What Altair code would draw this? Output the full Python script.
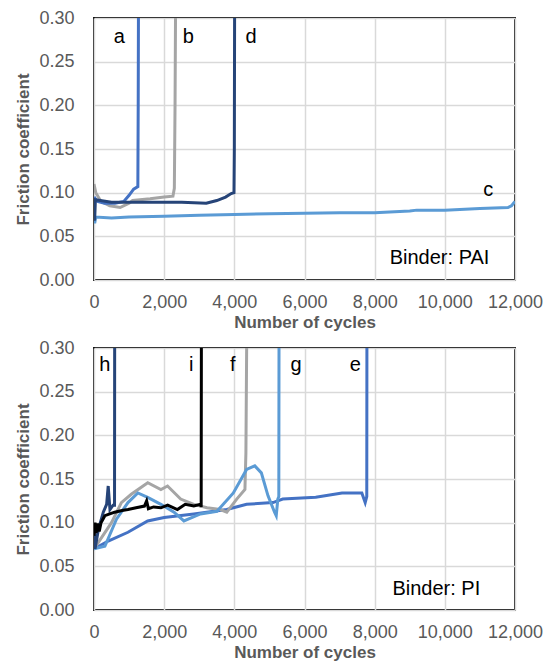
import altair as alt
import pandas as pd

# ---------------- Data ----------------
# Top panel: Binder PAI
a_x = [0, 100, 300, 600, 850, 1000, 1130, 1250, 1260, 1270]
a_y = [0.095, 0.090, 0.088, 0.088, 0.090, 0.097, 0.104, 0.107, 0.20, 0.35]

b_x = [0, 50, 200, 450, 745, 1000, 1100, 1600, 2000, 2250, 2290, 2310, 2330]
b_y = [0.110, 0.100, 0.090, 0.085, 0.083, 0.088, 0.091, 0.093, 0.095, 0.096, 0.105, 0.20, 0.35]

c_x = [0, 20, 50, 500, 1000, 2000, 3000, 4000, 5000, 6000, 7000, 8000, 9000, 9200, 10000, 11000, 11800, 11900, 12000]
c_y = [0.075, 0.065, 0.072, 0.071, 0.072, 0.073, 0.074, 0.075, 0.076, 0.0765, 0.077, 0.077, 0.079, 0.080, 0.080, 0.082, 0.083, 0.085, 0.090]

d_x = [0, 20, 40, 500, 1500, 2500, 3200, 3500, 3750, 3910, 3990, 4000, 4010]
d_y = [0.068, 0.070, 0.092, 0.089, 0.089, 0.089, 0.088, 0.091, 0.095, 0.099, 0.100, 0.15, 0.35]

# Bottom panel: Binder PI
e_x = [0, 405, 968, 1530, 2000, 2845, 3785, 4350, 5100, 5380, 6320, 7070, 7634, 7730, 7775, 7780]
e_y = [0.070, 0.079, 0.089, 0.102, 0.106, 0.110, 0.115, 0.121, 0.123, 0.127, 0.129, 0.134, 0.134, 0.123, 0.130, 0.35]

f_x = [0, 499, 780, 1062, 1532, 1907, 2096, 2470, 2845, 3222, 3597, 3785, 4068, 4302, 4330, 4360]
f_y = [0.070, 0.100, 0.123, 0.1325, 0.1458, 0.138, 0.142, 0.127, 0.121, 0.117, 0.115, 0.112, 0.127, 0.138, 0.18, 0.35]

g_x = [0, 310, 640, 968, 1250, 1530, 1907, 2282, 2563, 3034, 3504, 3972, 4349, 4583, 4770, 4958, 5146, 5194, 5240, 5268, 5275]
g_y = [0.070, 0.073, 0.104, 0.123, 0.134, 0.129, 0.121, 0.112, 0.102, 0.110, 0.113, 0.134, 0.161, 0.165, 0.157, 0.131, 0.112, 0.108, 0.127, 0.130, 0.35]

h_x = [0, 30, 125, 265, 360, 405, 455, 545, 585, 590]
h_y = [0.096, 0.070, 0.092, 0.112, 0.121, 0.142, 0.115, 0.120, 0.120, 0.35]

i_x = [0, 30, 60, 100, 150, 200, 310, 450, 590, 800, 968, 1200, 1438, 1500, 1550, 1700, 1907, 2100, 2377, 2600, 2845, 3034, 3055, 3062]
i_y = [0.085, 0.100, 0.088, 0.099, 0.090, 0.100, 0.108, 0.110, 0.112, 0.114, 0.115, 0.117, 0.119, 0.125, 0.116, 0.118, 0.117, 0.120, 0.115, 0.121, 0.119, 0.121, 0.118, 0.35]

top_series = [("c", c_x, c_y), ("b", b_x, b_y), ("a", a_x, a_y), ("d", d_x, d_y)]
bot_series = [("e", e_x, e_y), ("f", f_x, f_y), ("g", g_x, g_y), ("h", h_x, h_y), ("i", i_x, i_y)]

series_names = ["a", "b", "c", "d", "e", "f", "g", "h", "i"]
series_colors = ["#4472C4", "#A5A5A5", "#5B9BD5", "#264478",
                 "#4472C4", "#A5A5A5", "#5B9BD5", "#264478", "#000000"]

top_labels = ["a", "b", "d", "c"]
top_label_x = [724, 2687, 4478, 11240]
top_label_y = [0.2785, 0.2785, 0.2785, 0.103]

bot_labels = ["h", "i", "f", "g", "e"]
bot_label_x = [310, 2772, 3955, 5757, 7448]
bot_label_y = [0.281, 0.281, 0.281, 0.281, 0.281]

binder_text = ["Binder: PAI", "Binder: PI"]
binder_x = [11270, 11010]
binder_y = [0.025, 0.024]

x_ticks = [0, 2000, 4000, 6000, 8000, 10000, 12000]
y_ticks = [0.0, 0.05, 0.10, 0.15, 0.20, 0.25, 0.30]

FONT = "Liberation Sans"
W, H = 421, 262


def build_df(series):
    rows = []
    for order, (name, xs, ys) in enumerate(series):
        for k, (xv, yv) in enumerate(zip(xs, ys)):
            rows.append({"series": name, "layer": order, "idx": k, "x": xv, "y": yv})
    return pd.DataFrame(rows)


def panel(series, labels, lx, ly, binder, bx, by):
    df = build_df(series)
    xenc = alt.X("x:Q", scale=alt.Scale(domain=[0, 12000], nice=False),
                 axis=alt.Axis(values=x_ticks, format=",.0f", title="Number of cycles",
                               labelOverlap=False, labelFlush=False))
    yenc = alt.Y("y:Q", scale=alt.Scale(domain=[0, 0.3], nice=False),
                 axis=alt.Axis(values=y_ticks, format=".2f", title="Friction coefficient",
                               labelOverlap=False, labelFlush=False))
    lines = []
    for name, _, _ in series:
        lines.append(
            alt.Chart(df[df.series == name]).mark_line(strokeWidth=3, clip=True).encode(
                x=xenc, y=yenc,
                color=alt.Color("series:N", scale=alt.Scale(domain=series_names, range=series_colors), legend=None),
                order="idx:Q",
            )
        )
    lab_df = pd.DataFrame({"label": labels, "x": lx, "y": ly})
    txt = alt.Chart(lab_df).mark_text(fontSize=20, font=FONT, color="black", baseline="middle").encode(
        x="x:Q", y="y:Q", text="label:N")
    bdf = pd.DataFrame({"label": [binder], "x": [bx], "y": [by]})
    btxt = alt.Chart(bdf).mark_text(fontSize=20, font=FONT, color="black", align="right",
                                    baseline="middle").encode(x="x:Q", y="y:Q", text="label:N")
    return alt.layer(*lines, txt, btxt).properties(width=W, height=H)


top = panel(top_series, top_labels, top_label_x, top_label_y, binder_text[0], binder_x[0], binder_y[0])
bot = panel(bot_series, bot_labels, bot_label_x, bot_label_y, binder_text[1], binder_x[1], binder_y[1])

chart = alt.vconcat(top, bot, spacing=7).properties(
    padding={"top": 0, "left": 6, "right": 0, "bottom": 0}
).configure_view(
    stroke="black", strokeWidth=1.8
).configure_axis(
    grid=True, gridColor="#D9D9D9", gridWidth=1.5, domain=False, ticks=False,
    labelFont=FONT, labelFontSize=18, labelColor="#595959", labelPadding=13,
    titleFont=FONT, titleFontSize=17, titleFontWeight="bold", titleColor="#595959", titlePadding=3,
).configure_axisY(labelPadding=20, titlePadding=6)

chart.save("out.html", embed_options={"renderer": "svg", "actions": False})
